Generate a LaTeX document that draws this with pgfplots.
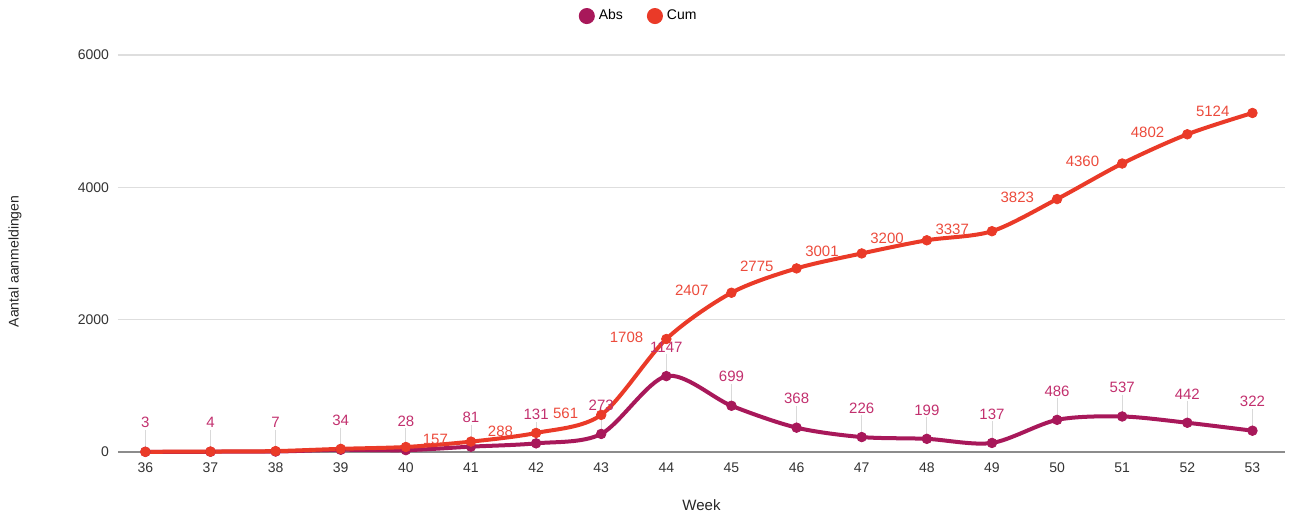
\documentclass[border=0pt]{standalone}
\usepackage{pgfplots}
\pgfplotsset{compat=1.18}
\usepackage{pgfplotstable}
\usepackage{fontspec}
\setmainfont{Liberation Sans}
\definecolor{absc}{HTML}{A8185A}
\definecolor{abslab}{HTML}{C2306E}
\definecolor{cumc}{HTML}{EA3A28}
\definecolor{cumlab}{HTML}{EC4B3C}
\pgfplotstableread{
week abs cum alab clab
36 3 3 3 {}
37 4 7 4 {}
38 7 14 7 {}
39 34 48 34 {}
40 28 76 28 {}
41 81 157 81 157
42 131 288 131 288
43 273 561 273 561
44 1147 1708 1147 1708
45 699 2407 699 2407
46 368 2775 368 2775
47 226 3001 226 3001
48 199 3200 199 3200
49 137 3337 137 3337
50 486 3823 486 3823
51 537 4360 537 4360
52 442 4802 442 4802
53 322 5124 322 5124
}\datatable
\begin{document}
\begin{tikzpicture}
\path[use as bounding box] (-59pt,-32pt) rectangle (586pt,226pt);
\begin{axis}[
  at={(0pt,0pt)}, anchor=south west,
  scale only axis,
  width=583.5pt, height=198.5pt,
  xmin=35.58, xmax=53.5,
  ymin=0, ymax=6000,
  xtick={36,...,53},
  ytick={0,2000,4000,6000},
  ymajorgrids,
  grid style={draw=black!13, line width=0.6pt},
  major tick length=0pt,
  axis x line*=bottom,
  axis y line*=left,
  x axis line style={draw=black!45, line width=0.7pt, -},
  y axis line style={draw=none},
  clip=false,
  font=\fontsize{7}{8}\selectfont,
  ticklabel style={font=\fontsize{7}{8}\selectfont, text=black!80},
  xticklabel style={yshift=-2pt},
  yticklabel style={xshift=-1pt},
  /pgf/number format/1000 sep={},
  /pgf/number format/assume math mode=true,
  xlabel={Week},
  xlabel style={at={(axis description cs:0.5,0)}, anchor=center, yshift=-26.5pt, font=\fontsize{7.5}{9}\selectfont, text=black!85},
  ylabel={Aantal aanmeldingen},
  ylabel style={at={([xshift=-51.5pt]axis description cs:0,0.48)}, anchor=center, font=\fontsize{7}{8}\selectfont, text=black!85},
  legend style={at={(0.447,1)}, anchor=south, yshift=12pt, draw=none, fill=none,
    font=\fontsize{7}{8}\selectfont, legend columns=2,
    /tikz/every even column/.append style={column sep=10pt}},
  legend image code/.code={\fill[#1] (0.15cm,0cm) circle (3pt);},
]
% leader lines for Abs labels
\addplot[forget plot, only marks, mark=none, black!15, line width=0.4pt,
  error bars/.cd, y dir=plus, y fixed=330, error mark=none,
  error bar style={black!15, line width=0.4pt}]
  table[x=week, y=abs] {\datatable};
\addplot[absc, line width=2pt, smooth, mark=*, mark size=2.4pt,
  mark options={solid, fill=absc, draw=absc, line width=0.4pt},
  point meta=explicit symbolic,
  nodes near coords={\pgfplotspointmeta},
  every node near coord/.append style={anchor=center, yshift=14.5pt, text=abslab, font=\fontsize{7.5}{9}\selectfont}]
  table[x=week, y=abs, meta=alab] {\datatable};
\addlegendentry{Abs}
\addplot[cumc, line width=2pt, smooth, mark=*, mark size=2.4pt,
  mark options={solid, fill=cumc, draw=cumc, line width=0.4pt},
  point meta=explicit symbolic,
  nodes near coords={\pgfplotspointmeta},
  every node near coord/.append style={anchor=east, xshift=-8pt, yshift=1pt, text=cumlab, font=\fontsize{7.5}{9}\selectfont}]
  table[x=week, y=cum, meta=clab] {\datatable};
\addlegendentry{Cum}
\end{axis}
\end{tikzpicture}
\end{document}
